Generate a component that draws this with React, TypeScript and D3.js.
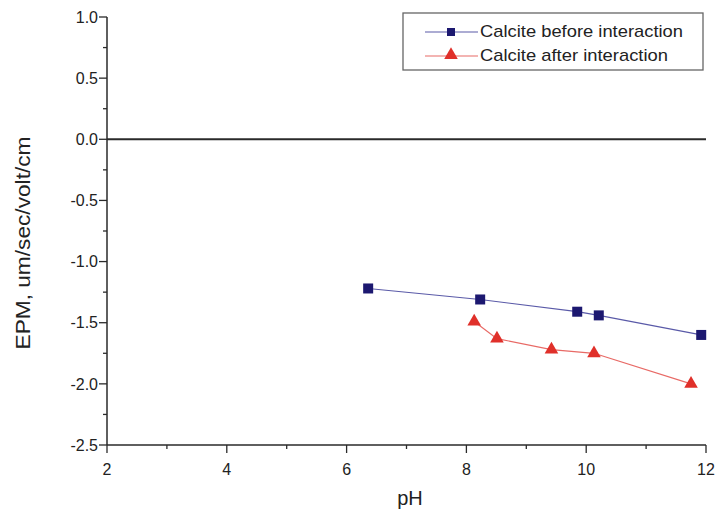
import React from "react";
import * as d3 from "d3";

const beforePH = [6.36, 8.23, 9.85, 10.21, 11.92];
const beforeEPM = [-1.22, -1.31, -1.41, -1.44, -1.6];
const afterPH = [8.13, 8.51, 9.42, 10.13, 11.75];
const afterEPM = [-1.49, -1.63, -1.72, -1.75, -2.0];
const xTicks = [2, 4, 6, 8, 10, 12];
const yTicks = [1.0, 0.5, 0.0, -0.5, -1.0, -1.5, -2.0, -2.5];
const seriesNames = ["Calcite before interaction", "Calcite after interaction"];

const W = 717, H = 519;
const L = 107, R = 706, T = 17, B = 445;

export default function App() {
  const x = d3.scaleLinear().domain([2, 12]).range([L, R]);
  const y = d3.scaleLinear().domain([-2.5, 1.0]).range([B, T]);
  const line = d3.line<[number, number]>().x(d => x(d[0])).y(d => y(d[1]));
  const before: [number, number][] = beforePH.map((p, i) => [p, beforeEPM[i]]);
  const after: [number, number][] = afterPH.map((p, i) => [p, afterEPM[i]]);
  const xMinor = d3.range(3, 12, 2);
  const yMinor = d3.range(-2.25, 1.0, 0.5);
  const tri = d3.symbol().type(d3.symbolTriangle).size(80)() as string;
  const font = "Liberation Sans, Arial, sans-serif";
  const blueLine = "#5a5aa8";
  const blueMark = "#1c1870";
  const redLine = "#e86a66";
  const redMark = "#e0302a";
  const ink = "#2a2a2a";
  return (
    <svg width={W} height={H} style={{ position: "absolute", left: 0, top: 0 }} fontFamily={font}>
      <rect width={W} height={H} fill="#fff" />
      {/* zero line */}
      <line x1={L} x2={R} y1={y(0)} y2={y(0)} stroke={ink} strokeWidth={2} />
      {/* axes */}
      <line x1={L} x2={L} y1={T} y2={B} stroke={ink} strokeWidth={1.5} />
      <line x1={L} x2={R} y1={B} y2={B} stroke={ink} strokeWidth={1.5} />
      {yTicks.map(t => (
        <g key={"y" + t}>
          <line x1={L - 8} x2={L} y1={y(t)} y2={y(t)} stroke={ink} strokeWidth={1.3} />
          <text x={L - 9} y={y(t)} dy="0.36em" textAnchor="end" fontSize={16} fill="#222">
            {t.toFixed(1)}
          </text>
        </g>
      ))}
      {yMinor.map(t => (
        <line key={"ym" + t} x1={L - 4} x2={L} y1={y(t)} y2={y(t)} stroke={ink} strokeWidth={1.3} />
      ))}
      {xTicks.map(t => (
        <g key={"x" + t}>
          <line x1={x(t)} x2={x(t)} y1={B} y2={B + 8} stroke={ink} strokeWidth={1.3} />
          <text x={x(t)} y={B + 30} textAnchor="middle" fontSize={16} fill="#222">
            {t}
          </text>
        </g>
      ))}
      {xMinor.map(t => (
        <line key={"xm" + t} x1={x(t)} x2={x(t)} y1={B} y2={B + 4} stroke={ink} strokeWidth={1.3} />
      ))}
      {/* axis titles */}
      <text x={410} y={505} textAnchor="middle" fontSize={20} fill="#222">pH</text>
      <text transform={`translate(30,243) rotate(-90)`} textAnchor="middle" fontSize={20} fill="#222"
        textLength={213} lengthAdjust="spacingAndGlyphs">
        EPM, um/sec/volt/cm
      </text>
      {/* series */}
      <path d={line(before) as string} fill="none" stroke={blueLine} strokeWidth={1.2} />
      <path d={line(after) as string} fill="none" stroke={redLine} strokeWidth={1.2} />
      {before.map((d, i) => (
        <rect key={"b" + i} x={x(d[0]) - 5} y={y(d[1]) - 5} width={10} height={10} fill={blueMark} />
      ))}
      {after.map((d, i) => (
        <path key={"a" + i} d={tri} transform={`translate(${x(d[0])},${y(d[1])})`} fill={redMark} />
      ))}
      {/* legend */}
      <rect x={403} y={13} width={300} height={57} fill="#fff" stroke="#666" strokeWidth={1.3} />
      <line x1={425} x2={478} y1={32} y2={32} stroke={blueLine} strokeWidth={1.2} />
      <rect x={447} y={28} width={8} height={8} fill={blueMark} />
      <text x={480} y={37} fontSize={17} fill="#222" textLength={203} lengthAdjust="spacingAndGlyphs">{seriesNames[0]}</text>
      <line x1={425} x2={478} y1={56} y2={56} stroke={redLine} strokeWidth={1.2} />
      <path d={tri} transform="translate(451,55)" fill={redMark} />
      <text x={480} y={61} fontSize={17} fill="#222" textLength={188} lengthAdjust="spacingAndGlyphs">{seriesNames[1]}</text>
    </svg>
  );
}
